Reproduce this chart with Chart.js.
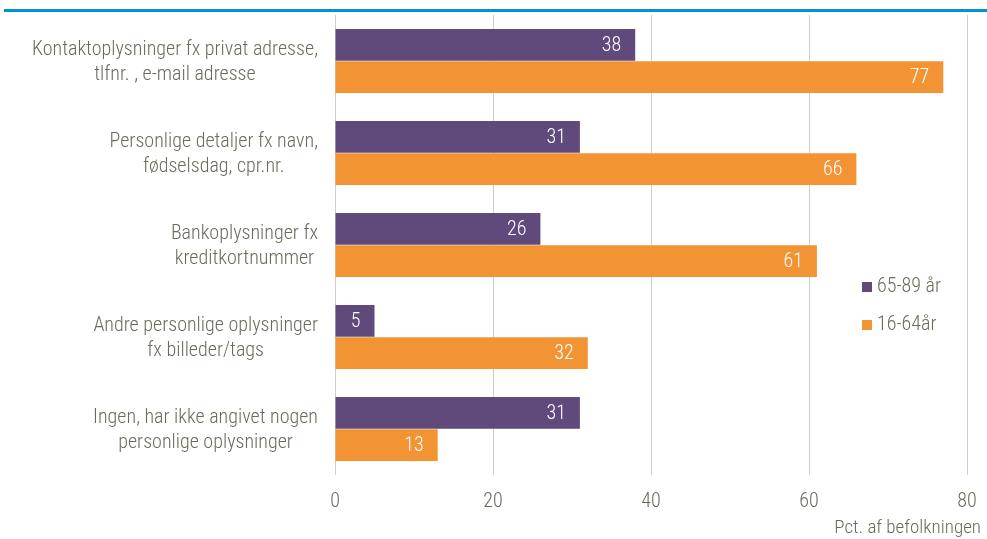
<!DOCTYPE html>
<html>
<head>
<meta charset="utf-8">
<script src="https://cdn.jsdelivr.net/npm/chart.js@4.4.1/dist/chart.umd.min.js"></script>
<style>
    html, body { margin: 0; padding: 0; background: #ffffff; }
    #wrap { position: relative; width: 987px; height: 539px; }
</style>
</head>
<body>
<div id="wrap"><canvas id="chart" width="987" height="539"></canvas></div>
<script>
// ===== DATA =====
const categories = [
    ['Kontaktoplysninger fx privat adresse,', 'tlfnr. , e-mail adresse'],
    ['Personlige detaljer fx navn,', 'fødselsdag, cpr.nr.'],
    ['Bankoplysninger fx', 'kreditkortnummer'],
    ['Andre personlige oplysninger', 'fx billeder/tags'],
    ['Ingen, har ikke angivet nogen', 'personlige oplysninger']
];
const seriesNames = ['65-89 år', '16-64år'];
const olderValues = [38, 31, 26, 5, 31];
const youngerValues = [77, 66, 61, 32, 13];
const xTicks = [0, 20, 40, 60, 80];
const axisTitle = 'Pct. af befolkningen';

const FONT = '"Roboto Condensed", "Liberation Sans Narrow", "Arial Narrow", sans-serif';
const TEXT_COLOR = '#6b6b5c';
const PURPLE = '#604a7b';
const ORANGE = '#f29433';

// ===== CUSTOM DRAWING =====
const decorPlugin = {
    id: 'decor',
    afterDraw(chart) {
        const ctx = chart.ctx;
        const y = chart.scales.y;
        const area = chart.chartArea;
        ctx.save();

        // blue rule at top
        ctx.fillStyle = '#0094d4';
        ctx.fillRect(4, 9, 983, 3);

        // category labels: block right-aligned, lines centered within block
        ctx.font = '300 20px ' + FONT;
        ctx.fillStyle = TEXT_COLOR;
        ctx.textBaseline = 'middle';
        ctx.textAlign = 'center';
        const rightEdge = area.left - 17;
        const lineH = 25;
        categories.forEach((lines, i) => {
            const cy = y.getPixelForValue(i);
            const w = Math.max(...lines.map(l => ctx.measureText(l).width));
            const cx = rightEdge - w / 2;
            lines.forEach((l, j) => {
                ctx.fillText(l, cx, cy + 1 + (j - (lines.length - 1) / 2) * lineH);
            });
        });

        // value labels inside bar ends
        ctx.fillStyle = '#ffffff';
        ctx.textAlign = 'right';
        chart.data.datasets.forEach((ds, di) => {
            chart.getDatasetMeta(di).data.forEach((bar, i) => {
                ctx.fillText(String(ds.data[i]), bar.x - 14, bar.y + 1);
            });
        });

        // legend
        ctx.textAlign = 'left';
        const legendY = [287, 325];
        [PURPLE, ORANGE].forEach((c, i) => {
            ctx.fillStyle = c;
            ctx.fillRect(862, legendY[i] - 5, 10, 10);
            ctx.fillStyle = TEXT_COLOR;
            ctx.fillText(seriesNames[i], 877, legendY[i]);
        });

        // axis title
        ctx.textAlign = 'right';
        ctx.font = '300 19px ' + FONT;
        ctx.fillText(axisTitle, 981, 528);
        ctx.restore();
    }
};

// ===== CHART =====
new Chart(document.getElementById('chart'), {
    type: 'bar',
    data: {
        labels: categories.map(c => c.join(' ')),
        datasets: [
            {
                label: seriesNames[0],
                data: olderValues,
                backgroundColor: PURPLE,
                categoryPercentage: 0.7,
                barPercentage: 0.98
            },
            {
                label: seriesNames[1],
                data: youngerValues,
                backgroundColor: ORANGE,
                categoryPercentage: 0.7,
                barPercentage: 0.98
            }
        ]
    },
    options: {
        indexAxis: 'y',
        responsive: false,
        animation: false,
        layout: { padding: { top: 15, right: 20, left: 0, bottom: 0 } },
        plugins: {
            legend: { display: false },
            tooltip: { enabled: false }
        },
        scales: {
            x: {
                min: 0,
                max: 80,
                afterBuildTicks: s => { s.ticks = xTicks.map(v => ({ value: v })); },
                afterFit: s => {
                    s.height = 64;
                    s.paddingRight = 0;
                    s.paddingLeft = 0;
                },
                grid: { color: '#cfcfc8', drawTicks: false },
                border: { display: false },
                ticks: {
                    padding: 15,
                    color: TEXT_COLOR,
                    font: { family: FONT, size: 20, weight: '300' }
                }
            },
            y: {
                afterFit: s => { s.width = 335; },
                grid: { display: false },
                border: { display: false },
                ticks: { display: false }
            }
        }
    },
    plugins: [decorPlugin]
});
</script>
</body>
</html>
